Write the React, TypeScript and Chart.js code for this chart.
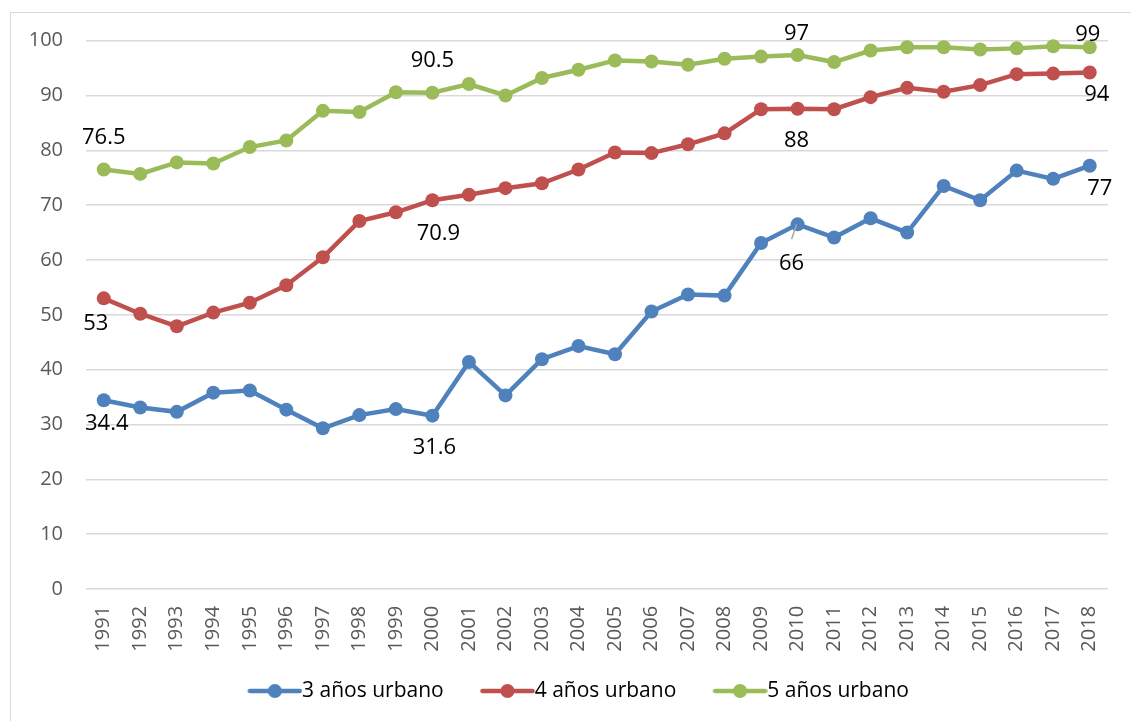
import React, { useEffect, useRef } from "react";
import { Chart, registerables } from "chart.js";

Chart.register(...registerables);

// ---------- DATA ----------
const years = [
  "1991", "1992", "1993", "1994", "1995", "1996", "1997", "1998", "1999", "2000",
  "2001", "2002", "2003", "2004", "2005", "2006", "2007", "2008", "2009", "2010",
  "2011", "2012", "2013", "2014", "2015", "2016", "2017", "2018",
];

const urbano3 = [
  34.4, 33.1, 32.3, 35.8, 36.2, 32.7, 29.3, 31.7, 32.8, 31.6,
  41.4, 35.3, 41.9, 44.3, 42.8, 50.6, 53.7, 53.5, 63.1, 66.5,
  64.1, 67.6, 65.0, 73.5, 70.9, 76.3, 74.8, 77.2,
];

const urbano4 = [
  53.0, 50.2, 47.9, 50.4, 52.2, 55.4, 60.5, 67.1, 68.7, 70.9,
  71.9, 73.1, 74.0, 76.5, 79.6, 79.5, 81.1, 83.1, 87.5, 87.6,
  87.5, 89.7, 91.4, 90.7, 91.9, 93.9, 94.0, 94.2,
];

const urbano5 = [
  76.5, 75.7, 77.8, 77.6, 80.6, 81.8, 87.2, 87.0, 90.6, 90.5,
  92.1, 90.0, 93.2, 94.7, 96.4, 96.2, 95.6, 96.7, 97.1, 97.4,
  96.1, 98.2, 98.8, 98.8, 98.4, 98.6, 99.0, 98.8,
];

const seriesNames = ["3 años urbano", "4 años urbano", "5 años urbano"];

// data labels shown on the chart (index into years)
const labelIndex = [0, 9, 19, 27];
const labels3 = ["34.4", "31.6", "66", "77"];
const labels4 = ["53", "70.9", "88", "94"];
const labels5 = ["76.5", "90.5", "97", "99"];

const yTicks = [0, 10, 20, 30, 40, 50, 60, 70, 80, 90, 100];

// ---------- STYLES ----------
const colors = ["#4f81bd", "#c0504d", "#9bbb59"];
const FONT = '"Open Sans", "Liberation Sans", sans-serif';
const LABEL_SIZE = 22;
// label centre offsets relative to the point [dx, dy]
const labelOffsets = [
  [[3, 22], [2, 30], [-6, 38], [10, 21]],
  [[-8, 23.5], [6, 31.5], [-1, 30.5], [7, 21]],
  [[0, -33], [0, -33.5], [-1, -22.5], [-2, -14]],
];
const LEGEND_TEXT_Y = 691;

function makeLegendIcon(color: string) {
  const c = document.createElement("canvas");
  c.width = 65;
  c.height = 16;
  const g = c.getContext("2d")!;
  g.strokeStyle = color;
  g.lineWidth = 4.5;
  g.lineCap = "round";
  g.beginPath();
  g.moveTo(12.5, 8);
  g.lineTo(62.5, 8);
  g.stroke();
  g.fillStyle = color;
  g.beginPath();
  g.arc(37.5, 8, 7, 0, Math.PI * 2);
  g.fill();
  return c;
}

const dataLabelPlugin = {
  id: "excelDataLabels",
  afterLayout(chart: any) {
    const lg = chart.legend;
    if (lg) {
      lg.left += 15.5;
      lg.right += 15.5;
      const pad = lg.options.labels.padding;
      const fs = lg.options.labels.font.size;
      const desiredTop = LEGEND_TEXT_Y - pad - fs / 2;
      const d = desiredTop - lg.top;
      lg.top += d;
      lg.bottom += d;
    }
  },
  afterDatasetsDraw(chart: any) {
    const ctx = chart.ctx;
    const all = [labels3, labels4, labels5];
    ctx.save();
    // leader line for the 2010 label of the 3-year series
    const p = chart.getDatasetMeta(0).data[labelIndex[2]];
    ctx.strokeStyle = "#a6a6a6";
    ctx.lineWidth = 1.5;
    ctx.beginPath();
    ctx.moveTo(p.x - 1, p.y);
    ctx.lineTo(p.x - 6, p.y + 15);
    ctx.stroke();

    ctx.font = `${LABEL_SIZE}px ${FONT}`;
    ctx.fillStyle = "#000000";
    ctx.textAlign = "center";
    ctx.textBaseline = "alphabetic";
    all.forEach((texts, di) => {
      const meta = chart.getDatasetMeta(di);
      labelIndex.forEach((idx, k) => {
        const pt = meta.data[idx];
        const [dx, dy] = labelOffsets[di][k];
        ctx.fillText(texts[k], pt.x + dx, pt.y + dy + LABEL_SIZE * 0.357);
      });
    });
    ctx.restore();
  },
};

export default function App() {
  const ref = useRef<HTMLCanvasElement | null>(null);

  useEffect(() => {
    if (!ref.current) return;
    const icons = colors.map(makeLegendIcon);
    const series = [urbano3, urbano4, urbano5];
    const chart = new Chart(ref.current, {
      type: "line",
      data: {
        labels: years,
        datasets: series.map((d, i) => ({
          label: seriesNames[i],
          data: d,
          borderColor: colors[i],
          backgroundColor: colors[i],
          borderWidth: 4.5,
          pointRadius: 7,
          pointBorderWidth: 0,
          pointBackgroundColor: colors[i],
          pointHoverRadius: 7,
          tension: 0,
          fill: false,
          clip: false as any,
        })),
      },
      options: {
        responsive: false,
        animation: false,
        layout: { padding: { left: 10, top: 40.7, right: 15, bottom: 0 } },
        plugins: {
          tooltip: { enabled: false },
          legend: {
            position: "bottom",
            labels: {
              usePointStyle: true,
              pointStyleWidth: 43.5,
              padding: 37,
              color: "#595959",
              font: { family: FONT, size: 21 },
              generateLabels: (ch: any) =>
                ch.data.datasets.map((ds: any, i: number) => ({
                  text: ds.label,
                  pointStyle: icons[i],
                  fillStyle: colors[i],
                  strokeStyle: colors[i],
                  lineWidth: 0,
                  hidden: false,
                  datasetIndex: i,
                })),
            },
          },
        },
        scales: {
          x: {
            offset: true,
            grid: { display: false, drawTicks: false },
            border: { display: false },
            ticks: {
              autoSkip: false,
              minRotation: 90,
              maxRotation: 90,
              padding: 17,
              color: "#595959",
              font: { family: FONT, size: 20 },
            },
            afterFit: (s: any) => {
              s.height = 64.1;
            },
          },
          y: {
            min: 0,
            max: 100,
            afterBuildTicks: (s: any) => {
              s.ticks = yTicks.map((v) => ({ value: v }));
            },
            grid: { color: "#d9d9d9", lineWidth: 1.5, drawTicks: false },
            border: { display: false },
            ticks: {
              padding: 22.5,
              color: "#595959",
              font: { family: FONT, size: 20 },
            },
            afterFit: (s: any) => {
              s.width = 75.5;
            },
          },
        },
      },
      plugins: [dataLabelPlugin],
    });
    return () => chart.destroy();
  }, []);

  return (
    <>
      <div
        style={{
          position: "fixed",
          left: 10,
          top: 12,
          width: 1200,
          height: 800,
          borderLeft: "1px solid #d9d9d9",
          borderTop: "1px solid #d9d9d9",
        }}
      />
      <canvas
        ref={ref}
        width={1131}
        height={721}
        style={{ position: "fixed", left: 0, top: 0, display: "block" }}
      />
    </>
  );
}
